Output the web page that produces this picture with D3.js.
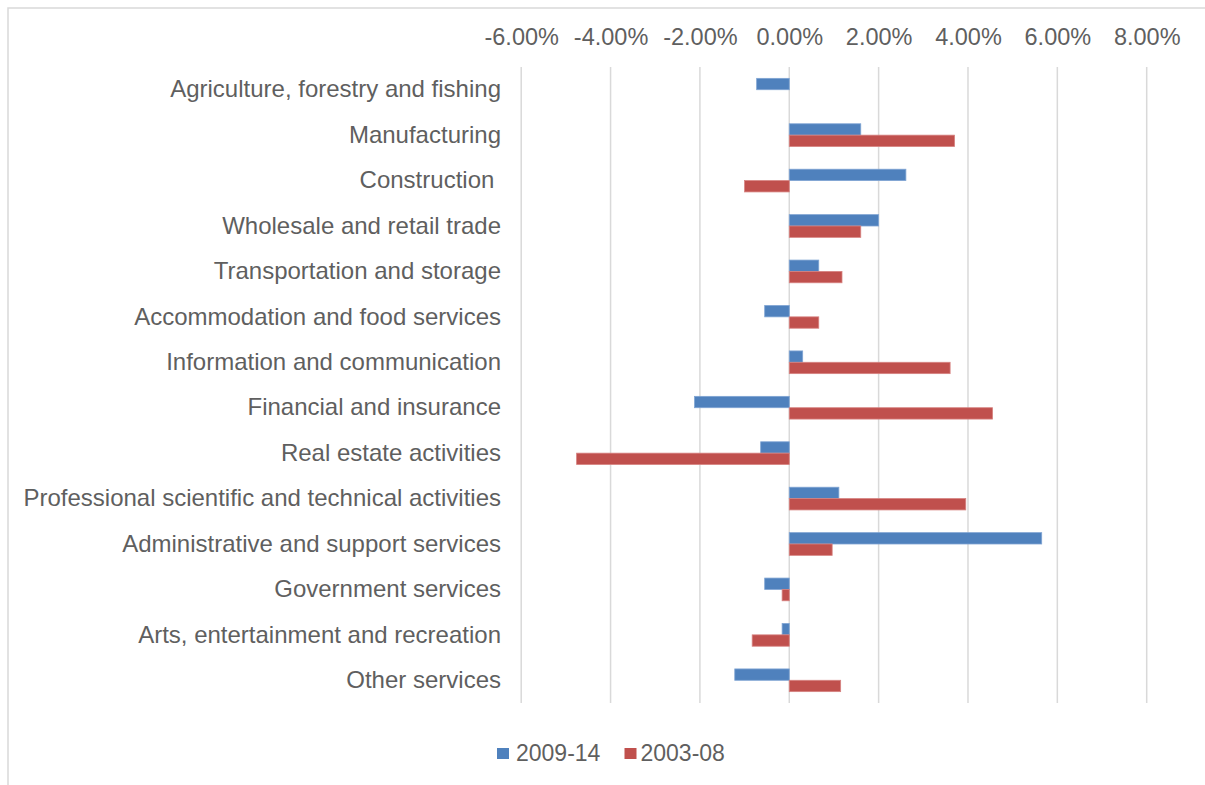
<!DOCTYPE html>
<html>
<head>
<meta charset="utf-8">
<script src="https://cdn.jsdelivr.net/npm/d3@7"></script>
<style>
  html, body { margin: 0; padding: 0; background: #fff; }
  svg { display: block; }
  text { font-family: "Liberation Sans", Arial, sans-serif; fill: #5f5f5f; }
</style>
</head>
<body>
<svg id="chart" width="1205" height="785"></svg>
<script>
const categories = [
  "Agriculture, forestry and fishing",
  "Manufacturing",
  "Construction ",
  "Wholesale and retail trade",
  "Transportation and storage",
  "Accommodation and food services",
  "Information and communication",
  "Financial and insurance",
  "Real estate activities",
  "Professional scientific and technical activities",
  "Administrative and support services",
  "Government services",
  "Arts, entertainment and recreation",
  "Other services"
];
const seriesNames = ["2009-14", "2003-08"];
const values2009_14 = [-0.73, 1.60, 2.61, 2.00, 0.66, -0.55, 0.30, -2.12, -0.64, 1.11, 5.65, -0.55, -0.16, -1.22];
const values2003_08 = [0, 3.70, -1.00, 1.60, 1.18, 0.66, 3.60, 4.55, -4.76, 3.95, 0.96, -0.16, -0.83, 1.15];
const tickValues = [-6, -4, -2, 0, 2, 4, 6, 8];
const colors = ["#4F81BD", "#C0504D"];
const strokes = ["#7FA4D3", "#D68381"];

const svg = d3.select("#chart");

// chart border (extends past the right/bottom edges as in the reference)
svg.append("rect")
  .attr("x", 8).attr("y", 8)
  .attr("width", 1220).attr("height", 800)
  .attr("fill", "none").attr("stroke", "#d9d9d9").attr("stroke-width", 1.5);

const plot = { left: 521.2, right: 1146.7, top: 67, bottom: 703 };

const x = d3.scaleLinear().domain([-6, 8]).range([plot.left, plot.right]);
const y = d3.scaleBand().domain(categories).range([plot.top, plot.bottom]).paddingInner(0).paddingOuter(0);
const yInner = d3.scaleBand().domain(seriesNames).range([0, y.bandwidth()]).paddingInner(0).paddingOuter(1);

// gridlines
svg.append("g")
  .selectAll("line")
  .data(tickValues)
  .join("line")
  .attr("x1", d => x(d)).attr("x2", d => x(d))
  .attr("y1", plot.top).attr("y2", plot.bottom)
  .attr("stroke", "#d9d9d9").attr("stroke-width", 1.5);

// top axis labels
const fmt = d => d3.format(".2f")(d).replace("\u2212", "-") + "%";
const axis = d3.axisTop(x).tickValues(tickValues).tickSize(0).tickPadding(0).tickFormat(fmt);
const ax = svg.append("g").attr("transform", `translate(0,45)`).call(axis);
ax.select(".domain").remove();
ax.selectAll("text")
  .attr("dy", 0)
  .style("font-size", "23.5px")
  .style("font-family", "\"Liberation Sans\", Arial, sans-serif")
  .attr("fill", "#5f5f5f");

// bars
const seriesData = [values2009_14, values2003_08];
seriesData.forEach((vals, si) => {
  svg.append("g")
    .selectAll("rect")
    .data(vals.map((v, i) => ({ cat: categories[i], v })).filter(d => d.v !== 0))
    .join("rect")
    .attr("x", d => x(Math.min(0, d.v)))
    .attr("width", d => Math.abs(x(d.v) - x(0)))
    .attr("y", d => y(d.cat) + yInner(seriesNames[si]))
    .attr("height", yInner.bandwidth())
    .attr("fill", colors[si])
    .attr("stroke", strokes[si])
    .attr("stroke-width", 0.8);
});

// category labels
const yAxis = d3.axisLeft(y).tickSize(0).tickPadding(0);
const ya = svg.append("g").attr("transform", `translate(501,0)`).call(yAxis);
ya.select(".domain").remove();
ya.selectAll("text")
  .attr("x", 0)
  .attr("dy", "0.32em")
  .style("font-size", "24px")
  .style("white-space", "pre")
  .style("font-family", "\"Liberation Sans\", Arial, sans-serif")
  .attr("fill", "#5f5f5f");

// legend
const legendItems = [
  { name: seriesNames[0], color: colors[0], sx: 497, tx: 516 },
  { name: seriesNames[1], color: colors[1], sx: 624.5, tx: 640.5 }
];
const lg = svg.append("g");
legendItems.forEach(it => {
  lg.append("rect")
    .attr("x", it.sx).attr("y", 748)
    .attr("width", 12).attr("height", 11)
    .attr("fill", it.color);
  lg.append("text")
    .attr("x", it.tx).attr("y", 760.5)
    .style("font-size", "23px")
    .text(it.name);
});
</script>
</body>
</html>
